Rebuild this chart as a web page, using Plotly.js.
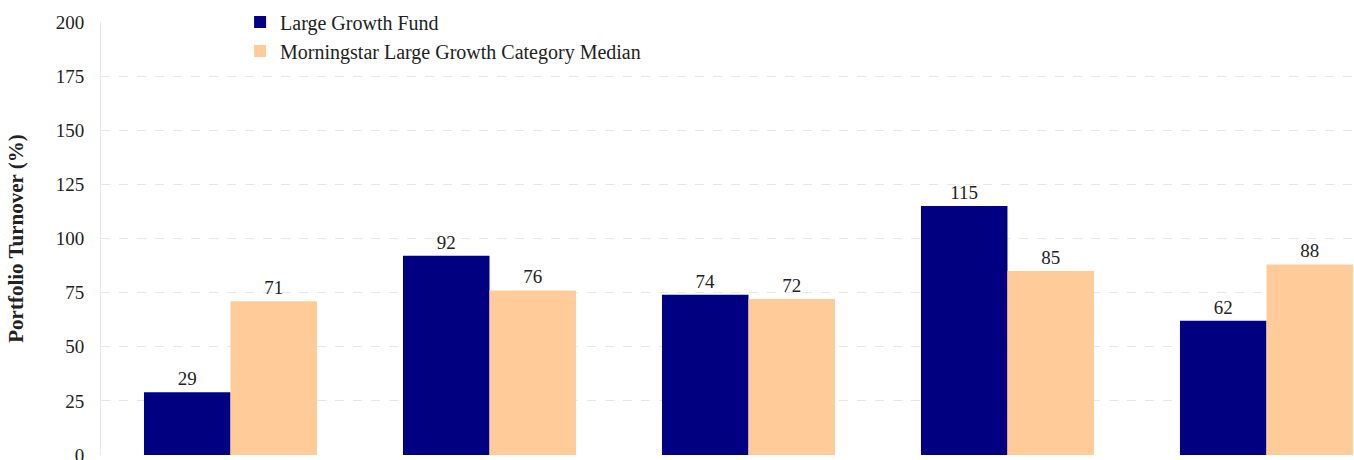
<!DOCTYPE html>
<html>
<head>
<meta charset="utf-8">
<script src="https://cdn.plot.ly/plotly-3.0.1.min.js"></script>
<style>html,body{margin:0;padding:0;background:#fff;}#chart{width:1354px;height:460px;}</style>
</head>
<body>
<div id="chart"></div>
<script>
const categories = ["Period 1", "Period 2", "Period 3", "Period 4", "Period 5"];
const fundValues = [29, 92, 74, 115, 62];
const medianValues = [71, 76, 72, 85, 88];
const seriesNames = ["Large Growth Fund", "Morningstar Large Growth Category Median"];
const yTicks = [0, 25, 50, 75, 100, 125, 150, 175, 200];

const FONT = "'Palatino Linotype', 'Book Antiqua', Palatino, 'Liberation Serif', 'DejaVu Serif', serif";

const traces = [
  {
    type: "bar", name: seriesNames[0], x: categories, y: fundValues,
    marker: {color: "#000080"},
    text: fundValues.map(String), textposition: "outside",
    textfont: {family: FONT, size: 19, color: "#222"}, cliponaxis: false
  },
  {
    type: "bar", name: seriesNames[1], x: categories, y: medianValues,
    marker: {color: "#FFCC99"},
    text: medianValues.map(String), textposition: "outside",
    textfont: {family: FONT, size: 19, color: "#222"}, cliponaxis: false
  }
];

const layout = {
  width: 1354, height: 460,
  margin: {l: 101, r: 0, t: 22, b: 5},
  paper_bgcolor: "#fff", plot_bgcolor: "#fff",
  font: {family: FONT, size: 19, color: "#222"},
  barmode: "group", bargap: 0.332, bargroupgap: 0,
  showlegend: true,
  legend: {x: 0.111, y: 1.045, xanchor: "left", yanchor: "top", bgcolor: "rgba(0,0,0,0)",
           font: {family: FONT, size: 20, color: "#222"}, itemwidth: 30, tracegroupgap: 2},
  xaxis: {range: [-0.5, 4.338], showticklabels: false, showgrid: false, zeroline: false,
          showline: false, ticks: "", fixedrange: true},
  yaxis: {range: [0, 200], tickvals: yTicks, ticktext: yTicks.map(String),
          showgrid: true, gridcolor: "#e6e6e6", griddash: "dash", gridwidth: 1,
          zeroline: false, showline: true, linecolor: "#e6e6e6", linewidth: 1,
          ticks: "", ticklabelstandoff: 12, ticklabeloverflow: "allow",
          tickfont: {family: FONT, size: 19, color: "#222"},
          title: {text: "<b>Portfolio Turnover (%)</b>", standoff: 26,
                  font: {family: FONT, size: 21, color: "#222"}}}
};

Plotly.newPlot("chart", traces, layout, {displayModeBar: false, staticPlot: true});
</script>
</body>
</html>
